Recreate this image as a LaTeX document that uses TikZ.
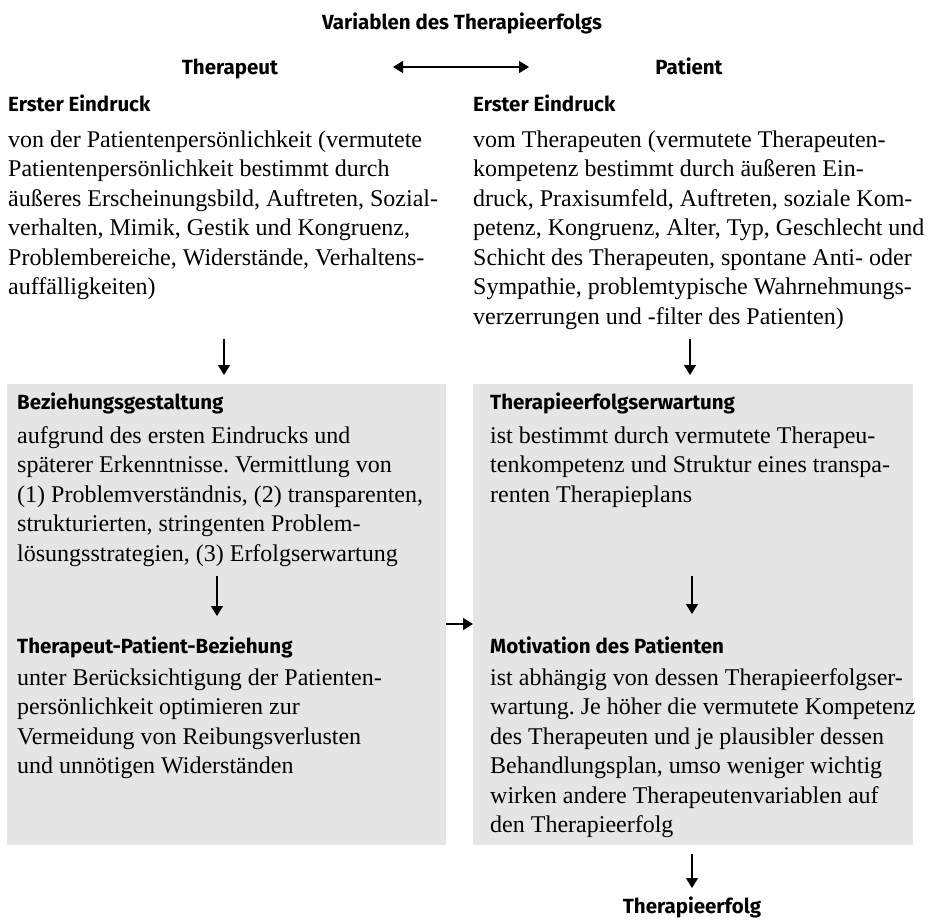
\documentclass[tikz,border=0pt]{standalone}
\usepackage{fontspec}
\setmainfont{Liberation Serif}
\newfontfamily\headfont{Fira Sans}
\usetikzlibrary{arrows.meta}
\definecolor{boxgray}{HTML}{E5E5E5}
\frenchspacing
\tikzset{
  head/.style={inner sep=0pt, font=\headfont\bfseries\fontsize{20.5}{24}\selectfont},
  body/.style={inner sep=0pt, anchor=north west, align=left, font=\fontsize{24}{29.5}\selectfont\frenchspacing},
  arr/.style={line width=1.3pt, -{Triangle[length=10pt,width=12pt]}},
  darr/.style={line width=1.3pt, {Triangle[length=10pt,width=12pt]}-{Triangle[length=10pt,width=12pt]}},
  graybox/.style={fill=boxgray, draw=none}
}
\newcommand{\fl}{\rule{0pt}{22pt}}
\begin{document}
\begin{tikzpicture}[x=1pt,y=-1pt]
\useasboundingbox (0,0) rectangle (929,921);
% boxes
\fill[graybox] (7,384) rectangle (446,845);
\fill[graybox] (473,384) rectangle (913,845);
% title
\node[head, anchor=base] (title) at (462,29) {Variablen des Therapieerfolgs};
\node[head, anchor=base] (ther) at (230,74) {Therapeut};
\node[head, anchor=base] (pat) at (689,74) {Patient};
\coordinate (dl) at (393,67);
\coordinate (dr) at (529,67);
\draw[darr] (dl) -- (dr);
% first impressions
\node[head, anchor=base west] (h1) at (8,111.5) {Erster Eindruck};
\node[body] (b1) at (8,125) {\fl von der Patientenpersönlichkeit (vermutete\\
Patientenpersönlichkeit bestimmt durch\\
äußeres Erscheinungsbild, Auftreten, Sozial-\\
verhalten, Mimik, Gestik und Kongruenz,\\
Problembereiche, Widerstände, Verhaltens-\\
auffälligkeiten)};
\node[head, anchor=base west] (h2) at (473,111.5) {Erster Eindruck};
\node[body] (b2) at (473,125) {\fl vom Therapeuten (vermutete Therapeuten-\\
kompetenz bestimmt durch äußeren Ein-\\
druck, Praxisumfeld, Auftreten, soziale Kom-\\
petenz, Kongruenz, Alter, Typ, Geschlecht und\\
Schicht des Therapeuten, spontane Anti- oder\\
Sympathie, problemtypische Wahrnehmungs-\\
verzerrungen und -filter des Patienten)};
% arrows into boxes
\coordinate (a1s) at (224,339);
\coordinate (a1e) at (224,375);
\draw[arr] (a1s) -- (a1e);
\coordinate (a2s) at (690,339);
\coordinate (a2e) at (690,375);
\draw[arr] (a2s) -- (a2e);
% left box
\node[head, anchor=base west] (h3) at (17,409) {Beziehungsgestaltung};
\node[body] (b3) at (17,421) {\fl aufgrund des ersten Eindrucks und\\
späterer Erkenntnisse. Vermittlung von\\
(1) Problemverständnis, (2) transparenten,\\
strukturierten, stringenten Problem-\\
lösungsstrategien, (3) Erfolgserwartung};
\coordinate (a3s) at (217,576);
\coordinate (a3e) at (217,616);
\draw[arr] (a3s) -- (a3e);
\node[head, anchor=base west] (h4) at (17,653) {Therapeut-Patient-Beziehung};
\node[body] (b4) at (17,663) {\fl unter Berücksichtigung der Patienten-\\
persönlichkeit optimieren zur\\
Vermeidung von Reibungsverlusten\\
und unnötigen Widerständen};
% right box
\node[head, anchor=base west] (h5) at (490,409) {Therapieerfolgserwartung};
\node[body] (b5) at (490,421) {\fl ist bestimmt durch vermutete Therapeu-\\
tenkompetenz und Struktur eines transpa-\\
renten Therapieplans};
\coordinate (a5s) at (692,576);
\coordinate (a5e) at (692,614);
\draw[arr] (a5s) -- (a5e);
\node[head, anchor=base west] (h6) at (490,653) {Motivation des Patienten};
\node[body] (b6) at (490,663) {\fl ist abhängig von dessen Therapieerfolgser-\\
wartung. Je höher die vermutete Kompetenz\\
des Therapeuten und je plausibler dessen\\
Behandlungsplan, umso weniger wichtig\\
wirken andere Therapeutenvariablen auf\\
den Therapieerfolg};
% between boxes
\coordinate (hs) at (446,624);
\coordinate (he) at (473,624);
\draw[arr] (hs) -- (he);
% bottom
\coordinate (a6s) at (692,854);
\coordinate (a6e) at (692,888);
\draw[arr] (a6s) -- (a6e);
\node[head, anchor=base] (erfolg) at (692,913) {Therapieerfolg};
\end{tikzpicture}
\end{document}
